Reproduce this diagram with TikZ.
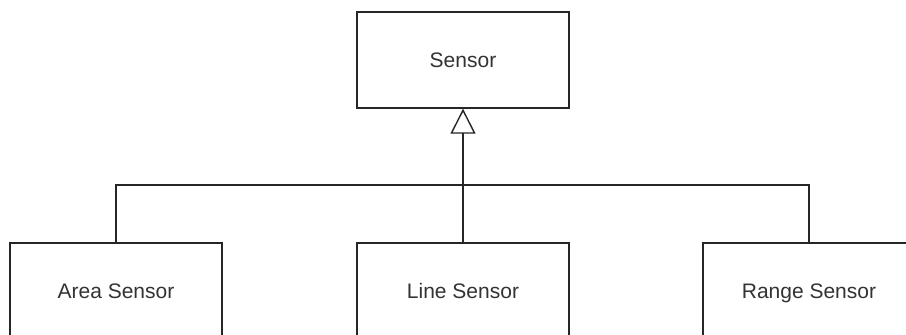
\documentclass[tikz,border=0pt]{standalone}
\usepackage{fontspec}
\setmainfont{Liberation Sans}
\usetikzlibrary{arrows.meta}
\begin{document}
\begin{tikzpicture}[x=1pt,y=-1pt,
  cls/.style={draw=black!85, line width=1.4pt, fill=white, minimum width=212pt, minimum height=96pt, inner sep=0pt, text height=15pt, text depth=0pt, font=\fontsize{21}{25}\selectfont, text=black!80},
  link/.style={draw=black!85, line width=1.4pt},
  inh/.style={link, -{Triangle[open, length=25pt, width=25pt, line width=1.4pt]}}]
\clip (0,0) rectangle (906,335);
\fill[white] (0,0) rectangle (906,335);
\node[cls] (sensor) at (463,60) {Sensor};
\node[cls] (area) at (116,291) {Area Sensor};
\node[cls] (line) at (463,291) {Line Sensor};
\node[cls] (range) at (809,291) {Range Sensor};
\coordinate (bus) at (463,185);
\draw[link] (area.north) |- (bus);
\draw[link] (range.north) |- (bus);
\draw[inh] (line.north) -- (sensor.south);
\end{tikzpicture}
\end{document}
